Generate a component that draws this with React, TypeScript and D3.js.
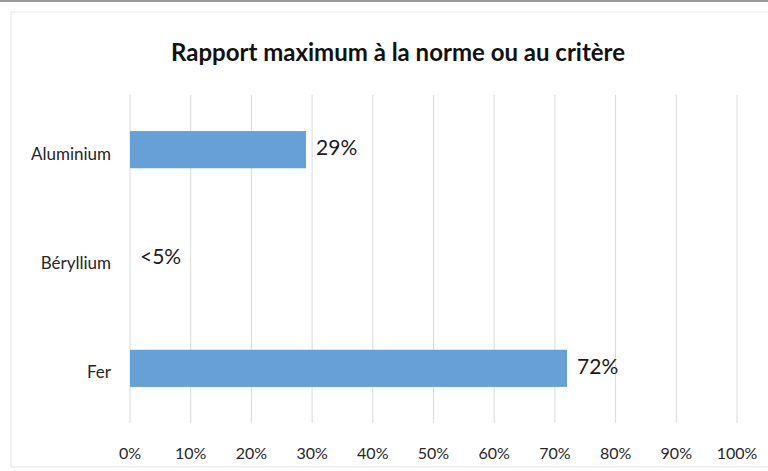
import React from 'react';
import * as d3 from 'd3';

const categories = ['Aluminium', 'Béryllium', 'Fer'];
const values = [0.29, 0, 0.72];
const valueLabels = ['29%', '<5%', '72%'];
const ticks = [0, 0.1, 0.2, 0.3, 0.4, 0.5, 0.6, 0.7, 0.8, 0.9, 1];

const W = 768;
const H = 471;
const font = 'Lato, "Open Sans", sans-serif';

const App = () => {
    const x = d3.scaleLinear().domain([0, 1]).range([130, 737]);
    const y = d3.scaleBand()
        .domain(categories)
        .range([95, 423])
        .paddingInner(0.66)
        .paddingOuter(0.33);

    return (
        <svg width={W} height={H} style={{position: 'absolute', left: 0, top: 0, background: '#fff'}}>
            {/* frame */}
            <rect x={11} y={12} width={W + 10} height={455} fill="#fff" stroke="#e6e6e6" />
            <line x1={0} x2={W} y1={1} y2={1} stroke="#9a9a9a" strokeWidth={2} />

            <text x={398} y={53} dy="0.35em" textAnchor="middle" fontFamily={font} fontWeight="bold"
                  fontSize={24} fill="#111">
                Rapport maximum à la norme ou au critère
            </text>

            {/* vertical grid */}
            {ticks.map(t => (
                <line key={t} x1={x(t)} x2={x(t)} y1={95} y2={423} stroke="#dadada" strokeWidth={1} />
            ))}

            {/* bars */}
            {categories.map((c, i) => (
                <rect key={c} x={x(0)} y={y(c)} width={x(values[i]) - x(0)} height={y.bandwidth()}
                      fill="#67a0d6" />
            ))}

            {/* value labels */}
            {categories.map((c, i) => (
                <text key={c} x={x(values[i]) + 10} y={(y(c) as number) + y.bandwidth() / 2 - 2}
                      dy="0.35em" fontFamily={font} fontSize={21} fill="#1a1a1a">
                    {valueLabels[i]}
                </text>
            ))}

            {/* category labels */}
            {categories.map(c => (
                <text key={c} x={111} y={(y(c) as number) + y.bandwidth() / 2 + 4}
                      dy="0.35em" textAnchor="end" fontFamily={font} fontSize={17} fill="#262626">
                    {c}
                </text>
            ))}

            {/* x tick labels */}
            {ticks.map(t => (
                <text key={t} x={x(t)} y={453} dy="0.35em" textAnchor="middle"
                      fontFamily={font} fontSize={16} fill="#262626">
                    {d3.format('.0%')(t)}
                </text>
            ))}
        </svg>
    );
};

export default App;
